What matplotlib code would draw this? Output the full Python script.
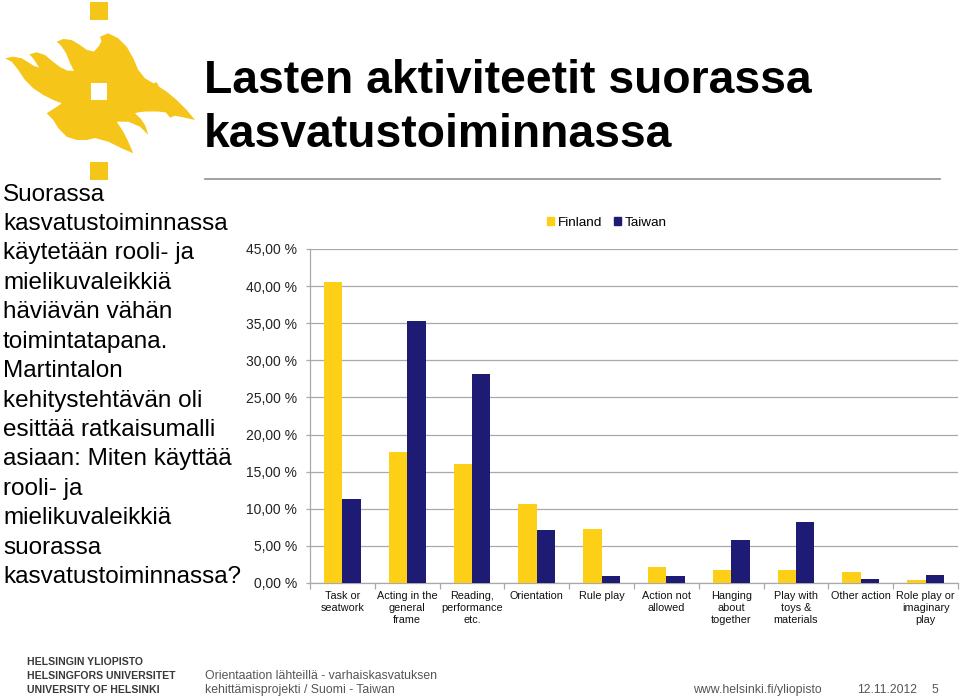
import matplotlib
matplotlib.use('Agg')
import matplotlib.pyplot as plt
import numpy as np
from matplotlib import font_manager
from matplotlib.patches import Polygon, Rectangle, Patch

# ---------------- data ----------------
categories = ["Task or\nseatwork", "Acting in the\ngeneral\nframe", "Reading,\nperformance\netc.",
              "Orientation", "Rule play", "Action not\nallowed", "Hanging\nabout\ntogether",
              "Play with\ntoys &\nmaterials", "Other action", "Role play or\nimaginary\nplay"]
finland = [40.6, 17.6, 16.0, 10.6, 7.3, 2.1, 1.7, 1.7, 1.5, 0.45]
taiwan = [11.3, 35.3, 28.2, 7.1, 0.9, 1.0, 5.8, 8.2, 0.55, 1.05]
series_names = ["Finland", "Taiwan"]
yticks = [0, 5, 10, 15, 20, 25, 30, 35, 40, 45]
ytick_labels = ["0,00 %", "5,00 %", "10,00 %", "15,00 %", "20,00 %", "25,00 %",
                "30,00 %", "35,00 %", "40,00 %", "45,00 %"]

title_lines = ["Lasten aktiviteetit suorassa", "kasvatustoiminnassa"]
side_lines = ["Suorassa", "kasvatustoiminnassa", "käytetään rooli- ja", "mielikuvaleikkiä",
              "häviävän vähän", "toimintatapana.", "Martintalon", "kehitystehtävän oli",
              "esittää ratkaisumalli", "asiaan: Miten käyttää", "rooli- ja", "mielikuvaleikkiä",
              "suorassa", "kasvatustoiminnassa?"]
logo_lines = ["HELSINGIN YLIOPISTO", "HELSINGFORS UNIVERSITET", "UNIVERSITY OF HELSINKI"]
footer_lines = ["Orientaation lähteillä - varhaiskasvatuksen", "kehittämisprojekti / Suomi - Taiwan"]
footer_url = "www.helsinki.fi/yliopisto"
footer_date = "12.11.2012"
footer_page = "5"

# ---------------- style ----------------
YELLOW = "#FDD017"
NAVY = "#1E1B74"
LOGO_Y = "#F6C519"
GRID = "#A9A9A9"

names = {f.name for f in font_manager.fontManager.ttflist}
BASE = "Liberation Sans" if "Liberation Sans" in names else "DejaVu Sans"
HAS_NARROW = "Liberation Sans Narrow" in names
NARROW = "Liberation Sans Narrow" if HAS_NARROW else BASE
plt.rcParams["font.family"] = [BASE, "DejaVu Sans"]

W, H = 960, 699
fig = plt.figure(figsize=(W / 100, H / 100), dpi=100)
fig.patch.set_facecolor("white")

# ---------------- chart ----------------
ax = fig.add_axes([310 / W, 1 - 583 / H, 648 / W, 334 / H])
x = np.arange(len(categories))
bw = 0.283
ax.bar(x - bw / 2, finland, width=bw, color=YELLOW, zorder=3, label=series_names[0])
ax.bar(x + bw / 2, taiwan, width=bw, color=NAVY, zorder=3, label=series_names[1])
ax.set_xlim(-0.5, len(categories) - 0.5)
ax.set_ylim(0, 45)
ax.set_yticks(yticks)
ax.set_yticklabels(ytick_labels)
ax.yaxis.grid(True, color=GRID, linewidth=0.9, zorder=0)
ax.set_axisbelow(True)
for s in ["top", "right"]:
    ax.spines[s].set_visible(False)
for s in ["left", "bottom"]:
    ax.spines[s].set_color(GRID)
    ax.spines[s].set_linewidth(0.9)
ax.tick_params(axis="y", length=3, width=0.9, color=GRID, pad=6.5, labelsize=10, labelcolor="#222222")
ax.set_xticks(x)
ax.set_xticklabels(categories, fontsize=7.8, color="#111111")
ax.tick_params(axis="x", which="major", length=0, pad=6)
ax.set_xticks(np.arange(-0.5, len(categories), 1), minor=True)
ax.tick_params(axis="x", which="minor", length=4, width=0.9, color=GRID)

handles = [Patch(color=YELLOW, label=series_names[0]), Patch(color=NAVY, label=series_names[1])]
fig.legend(handles=handles, loc="center", bbox_to_anchor=(607 / W, 1 - 223 / H), ncol=2,
           frameon=False, fontsize=9.7, handlelength=0.5, handleheight=0.5,
           handletextpad=0.3, columnspacing=0.9)

# ---------------- slide decorations (pixel overlay) ----------------
oax = fig.add_axes([0, 0, 1, 1])
oax.set_xlim(0, W)
oax.set_ylim(H, 0)
oax.axis("off")
oax.patch.set_visible(False)

flame = np.array([
    (5, 58.3), (13, 56.7), (21.7, 58.3), (28.3, 62.3), (34, 66), (39, 67.5),
    (35, 61), (31.5, 56.5), (29.3, 54.3),
    (36.7, 52.3), (45, 55), (53, 61.7), (60, 67), (67, 70.5), (74, 71),
    (70, 63), (66, 53), (61, 45.5), (56.7, 41.7),
    (63.3, 39), (71.7, 40), (80, 45), (87, 50), (94, 51.5),
    (99, 46), (101.5, 41), (100, 36.7),
    (108.3, 33.3), (118.3, 38.3), (126.7, 46.7), (133.3, 58.3), (138.3, 70), (145, 78.3),
    (153.3, 83.3), (156.7, 82.3), (159, 86.7), (166.7, 91.7), (176.7, 100), (186.7, 110),
    (195, 120),
    (185, 117.7), (175, 115.7), (170, 117.7), (166, 112.5), (158, 111.5), (146, 111.5),
    (138.3, 112.3), (135, 113.3),
    (141, 119), (145.5, 126), (148.3, 135),
    (140, 126.7), (128.3, 121.7), (116.7, 121.7),
    (123.3, 131.7), (128.3, 141.7), (133.3, 153.3),
    (121.7, 148.3), (108.3, 141.7), (95, 138),
    (86.7, 140), (76.7, 140), (66.7, 136.7), (58.3, 128.3), (53.3, 120), (46.7, 113.3),
    (55, 108), (61.7, 103.3),
    (53.3, 100), (43.3, 95), (33.3, 88.3), (25, 80), (18.3, 70), (11.7, 61.7),
])
oax.add_patch(Polygon(flame, closed=True, facecolor=LOGO_Y, edgecolor="none"))
oax.add_patch(Rectangle((90, 2), 18, 18, facecolor=LOGO_Y, edgecolor="none"))
oax.add_patch(Rectangle((91, 83), 16, 17, facecolor="white", edgecolor="none"))
oax.add_patch(Rectangle((90, 162), 18, 18, facecolor=LOGO_Y, edgecolor="none"))

# title
for i, line in enumerate(title_lines):
    oax.text(204, 93.3 + i * 53.4, line, fontsize=33.3, fontweight="bold", color="black",
             va="baseline", ha="left")
# rule
oax.plot([205, 940], [178.5, 178.5], color="#9a9a9a", linewidth=1.3)

# left text
for i, line in enumerate(side_lines):
    oax.text(3, 200.7 + i * 29.4, line, fontsize=17.5, color="black", va="baseline", ha="left")

# footer
if HAS_NARROW:
    lsize, fsize = 9.3, 10.5
else:
    lsize, fsize = 7.6, 8.8
for i, line in enumerate(logo_lines):
    oax.text(27, 662 + i * 14, line, fontsize=lsize, fontweight="bold", color="#3a3a3a",
             family=NARROW, va="center", ha="left")
for i, line in enumerate(footer_lines):
    oax.text(205, 676 + i * 14, line, fontsize=fsize, color="#555555", family=NARROW,
             va="center", ha="left")
oax.text(693, 690, footer_url, fontsize=fsize, color="#555555", family=NARROW, va="center", ha="left")
oax.text(857, 690, footer_date, fontsize=fsize, color="#555555", family=NARROW, va="center", ha="left")
oax.text(931, 690, footer_page, fontsize=fsize, color="#555555", family=NARROW, va="center", ha="left")

fig.savefig("out.png", dpi=100, facecolor="white")
